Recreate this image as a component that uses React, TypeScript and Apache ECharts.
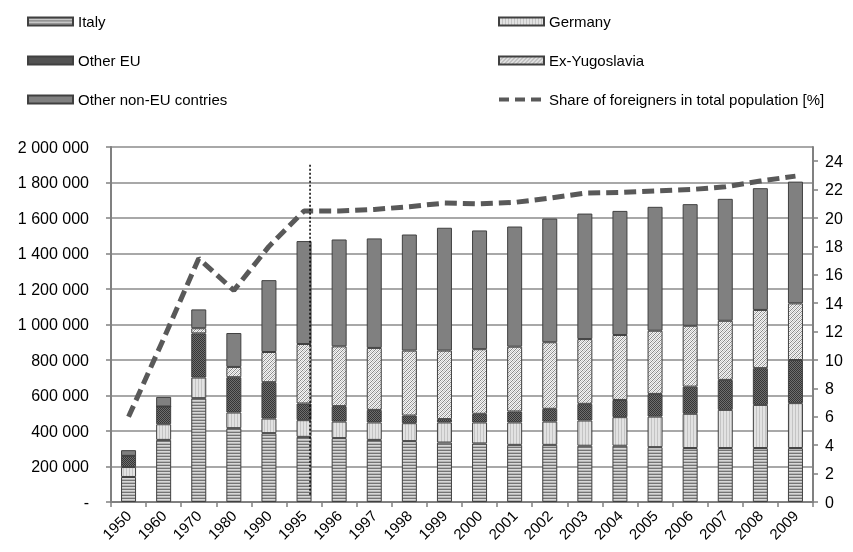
import React, { useEffect, useRef } from 'react';
import * as echarts from 'echarts';

const years = ['1950', '1960', '1970', '1980', '1990', '1995', '1996', '1997', '1998', '1999', '2000', '2001', '2002', '2003', '2004', '2005', '2006', '2007', '2008', '2009'];
const italy = [141000, 350000, 585000, 416000, 388000, 367000, 360000, 350000, 343000, 335000, 330000, 322000, 322000, 317000, 317000, 309000, 304000, 304000, 304000, 304000];
const germany = [56000, 88000, 116000, 88000, 82000, 94000, 93000, 98000, 101000, 113000, 118000, 126000, 131000, 142000, 161000, 172000, 193000, 215000, 243000, 253000];
const otherEU = [63000, 100000, 249000, 199000, 205000, 94000, 87000, 71000, 43000, 19000, 49000, 62000, 72000, 94000, 97000, 128000, 153000, 169000, 207000, 243000];
const exYugoslavia = [0, 0, 29000, 58000, 170000, 335000, 337000, 349000, 366000, 386000, 364000, 365000, 375000, 365000, 366000, 356000, 343000, 333000, 328000, 319000];
const otherNonEU = [32000, 54000, 106000, 191000, 405000, 580000, 602000, 617000, 654000, 692000, 669000, 677000, 697000, 707000, 699000, 698000, 685000, 687000, 686000, 686000];
const shareForeigners = [6.0, 11.5, 17.15, 14.9, 18.0, 20.5, 20.5, 20.6, 20.8, 21.05, 21.0, 21.1, 21.4, 21.75, 21.8, 21.9, 22.0, 22.2, 22.6, 22.95];

const FONT = '"Liberation Sans", Arial, sans-serif';
const LINE_NAME = 'Share of foreigners in total population [%]';

function makePattern(w: number, h: number, pix: (x: number, y: number) => string) {
  const c = document.createElement('canvas');
  c.width = w;
  c.height = h;
  const ctx = c.getContext('2d')!;
  for (let y = 0; y < h; y++) {
    for (let x = 0; x < w; x++) {
      ctx.fillStyle = pix(x, y);
      ctx.fillRect(x, y, 1, 1);
    }
  }
  return { image: c.toDataURL(), repeat: 'repeat', imageWidth: w, imageHeight: h } as any;
}

function fmt(v: number) {
  if (v === 0) return '-';
  return String(v).replace(/\B(?=(\d{3})+(?!\d))/g, ' ');
}

export default function App() {
  const ref = useRef<HTMLDivElement>(null);
  useEffect(() => {
    if (!ref.current) return;
    const chart = echarts.init(ref.current, null, { renderer: 'svg' });

    const pItaly = makePattern(4, 3, (x, y) => (y === 0 ? '#747474' : y === 1 ? '#d8d8d8' : '#b6b6b6'));
    const pGermany = makePattern(3, 2, (x) => (x === 0 ? '#c4c4c4' : '#e2e2e2'));
    const pOtherEU = makePattern(2, 2, (x, y) => ((x + y) % 2 === 0 ? '#353535' : '#6e6e6e'));
    const pExYu = makePattern(4, 4, (x, y) => {
      const k = (x + y) % 4;
      return k === 0 ? '#8a8a8a' : k === 2 ? '#c6c6c6' : '#f6f6f6';
    });
    const nonEUColor = '#808080';

    const border = { borderColor: '#404040', borderWidth: 1 };
    const barBase = { type: 'bar', stack: 'total', barWidth: 15, yAxisIndex: 0 };
    const legendBase = {
      top: 14, orient: 'vertical', itemWidth: 45, itemHeight: 8, itemGap: 24, padding: 0,
      textStyle: { fontSize: 15, color: '#000', fontFamily: FONT },
    };

    chart.setOption({
      animation: false,
      textStyle: { fontFamily: FONT, color: '#000' },
      legend: [
        {
          ...legendBase, left: 27,
          data: [
            { name: 'Italy', icon: 'rect' },
            { name: 'Other EU', icon: 'rect' },
            { name: 'Other non-EU contries', icon: 'rect' },
          ],
        },
        {
          ...legendBase, left: 497,
          data: [
            { name: 'Germany', icon: 'rect' },
            { name: 'Ex-Yugoslavia', icon: 'rect' },
            {
              name: LINE_NAME,
              itemStyle: { opacity: 0 },
              lineStyle: { color: '#595959', width: 4, type: [10, 6], cap: 'butt' },
            },
          ],
        },
      ],
      grid: { left: 111, right: 40, top: 147, bottom: 50, show: true, borderColor: '#808080', borderWidth: 1 },
      xAxis: {
        type: 'category',
        data: years,
        boundaryGap: true,
        axisLine: { show: true, lineStyle: { color: '#808080', width: 2 } },
        axisTick: { show: true, length: 5, lineStyle: { color: '#808080', width: 1.5 } },
        axisLabel: { rotate: 45, fontSize: 15, color: '#000', margin: 11, interval: 0, fontFamily: FONT },
      },
      yAxis: [
        {
          type: 'value', min: 0, max: 2000000, interval: 200000,
          axisLine: { show: true, lineStyle: { color: '#808080', width: 2 } },
          axisTick: { show: true, length: 5, lineStyle: { color: '#808080', width: 1.5 } },
          splitLine: { show: true, lineStyle: { color: '#a8a8a8', width: 2 } },
          axisLabel: { formatter: fmt, fontSize: 16, color: '#000', margin: 22, fontFamily: FONT },
        },
        {
          type: 'value', min: 0, max: 25, interval: 2, position: 'right',
          axisLine: { show: true, lineStyle: { color: '#808080', width: 2 } },
          axisTick: { show: true, length: 5, lineStyle: { color: '#808080', width: 1.5 } },
          splitLine: { show: false },
          axisLabel: { fontSize: 16, color: '#000', margin: 12, showMaxLabel: false, fontFamily: FONT },
        },
      ],
      series: [
        { ...barBase, name: 'Italy', data: italy, itemStyle: { color: pItaly, ...border } },
        { ...barBase, name: 'Germany', data: germany, itemStyle: { color: pGermany, ...border } },
        { ...barBase, name: 'Other EU', data: otherEU, itemStyle: { color: pOtherEU, ...border } },
        { ...barBase, name: 'Ex-Yugoslavia', data: exYugoslavia, itemStyle: { color: pExYu, ...border } },
        { ...barBase, name: 'Other non-EU contries', data: otherNonEU, itemStyle: { color: nonEUColor, ...border } },
        {
          type: 'line', name: LINE_NAME, yAxisIndex: 1,
          data: shareForeigners, symbol: 'none', z: 5,
          itemStyle: { color: '#595959' },
          lineStyle: { color: '#595959', width: 5, type: [12, 6], cap: 'butt' },
        },
      ],
    });

    const x = (chart.convertToPixel({ xAxisIndex: 0 }, '1995') as number) + 6;
    const yTop = chart.convertToPixel({ yAxisIndex: 0 }, 1900000) as number;
    const yBot = chart.convertToPixel({ yAxisIndex: 0 }, 35000) as number;
    chart.setOption({
      graphic: [
        {
          type: 'line', z: 100,
          shape: { x1: x, y1: yTop, x2: x, y2: yBot },
          style: { stroke: '#000', lineWidth: 1.5, lineDash: [2, 2] },
        },
      ],
    });

    return () => chart.dispose();
  }, []);
  return <div ref={ref} style={{ position: 'fixed', left: 0, top: 0, width: 853, height: 552 }} />;
}
